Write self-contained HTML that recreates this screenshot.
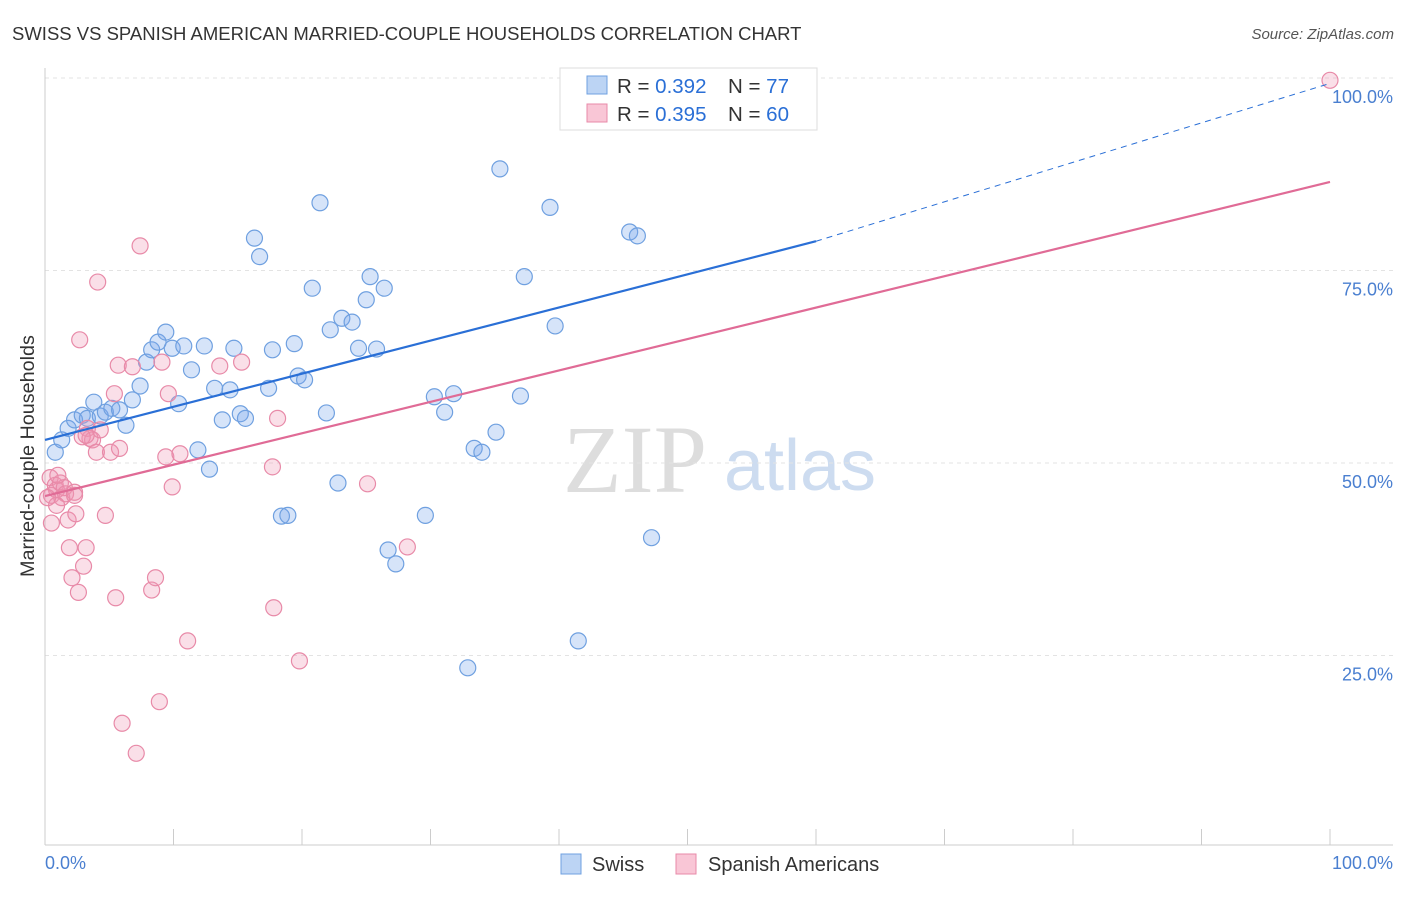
<!DOCTYPE html>
<html><head><meta charset="utf-8"><style>
body{margin:0;background:#fff;font-family:"Liberation Sans",sans-serif;}
svg text{font-family:"Liberation Sans",sans-serif;}
</style></head><body>
<svg width="1406" height="892" viewBox="0 0 1406 892">
<text x="12" y="40" font-size="18.5" fill="#333">SWISS VS SPANISH AMERICAN MARRIED-COUPLE HOUSEHOLDS CORRELATION CHART</text>
<text x="1394" y="39" font-size="15" fill="#555" font-style="italic" text-anchor="end">Source: ZipAtlas.com</text>
<g>
<text x="635" y="492" font-size="96" fill="#ddd" text-anchor="middle" style="font-family:'Liberation Serif',serif">ZIP</text>
<text x="800" y="490" font-size="72" fill="#cddcf0" text-anchor="middle">atlas</text>
</g>
<g id="grid"></g>
<g id="axes"></g>
<g id="marks"></g>
<text transform="translate(34,456) rotate(-90)" font-size="19.8" fill="#333" text-anchor="middle">Married-couple Households</text>
<text x="45" y="869" font-size="18" fill="#4a7fd0">0.0%</text>
<text x="1393" y="869" font-size="18" fill="#4a7fd0" text-anchor="end">100.0%</text>
<g>
<rect x="560" y="68" width="257" height="62" fill="#fff" stroke="#ddd"/>
<rect x="587" y="76" width="20" height="18" fill="#bcd4f4" stroke="#6fa0e0"/>
<rect x="587" y="104" width="20" height="18" fill="#f9c6d6" stroke="#e88aa8"/>
<text x="617" y="93" font-size="20.5" fill="#333">R = <tspan fill="#2a6fd6">0.392</tspan></text>
<text x="728" y="93" font-size="20.5" fill="#333">N = <tspan fill="#2a6fd6">77</tspan></text>
<text x="617" y="121" font-size="20.5" fill="#333">R = <tspan fill="#2a6fd6">0.395</tspan></text>
<text x="728" y="121" font-size="20.5" fill="#333">N = <tspan fill="#2a6fd6">60</tspan></text>
</g>
<g>
<rect x="561" y="854" width="20" height="20" fill="#bcd4f4" stroke="#6fa0e0"/>
<text x="592" y="871" font-size="20" fill="#333">Swiss</text>
<rect x="676" y="854" width="20" height="20" fill="#f9c6d6" stroke="#e88aa8"/>
<text x="708" y="871" font-size="20" fill="#333">Spanish Americans</text>
</g>
</svg>
<script>
const yTicks=[25,50,75,100];
const yTickLabels=["25.0%","50.0%","75.0%","100.0%"];
const xTicks=[0,10,20,30,40,50,60,70,80,90,100];
const swissX=[0.8,1.3,1.8,2.3,2.9,3.3,3.8,4.3,4.7,5.2,5.8,6.3,6.8,7.4,7.9,8.3,8.8,9.4,9.9,10.4,10.8,11.4,11.9,12.4,12.8,13.2,13.8,14.4,14.7,15.2,15.6,16.3,16.7,17.4,17.7,18.4,18.9,19.4,19.7,20.2,20.8,21.4,21.9,22.2,22.8,23.1,23.9,24.4,25.0,25.3,25.8,26.4,26.7,27.3,29.6,30.3,31.1,31.8,32.9,33.4,34.0,35.1,35.4,37.0,37.3,39.3,39.7,41.5,45.5,46.1,47.2,43.0,44.7,51.0,54.5];
const swissY=[51.4,53.0,54.5,55.6,56.2,55.8,57.9,56.1,56.6,57.1,56.9,54.9,58.2,60.0,63.1,64.7,65.7,67.0,64.9,57.7,65.2,62.1,51.7,65.2,49.2,59.7,55.6,59.5,64.9,56.4,55.8,79.2,76.8,59.7,64.7,43.1,43.2,65.5,61.3,60.8,72.7,83.8,56.5,67.3,47.4,68.8,68.3,64.9,71.2,74.2,64.8,72.7,38.7,36.9,43.2,58.6,56.6,59.0,23.4,51.9,51.4,54.0,88.2,58.7,74.2,83.2,67.8,26.9,80.0,79.5,40.3,99.4,99.5,99.7,99.7];
const spanX=[0.4,0.5,0.8,0.9,1.2,1.3,1.5,1.6,1.8,1.9,2.1,2.3,2.4,2.6,2.7,3.0,3.2,3.3,3.5,3.7,4.0,4.1,4.3,4.7,5.1,5.4,5.5,5.7,5.8,6.0,6.8,7.1,7.4,8.3,8.6,8.9,9.1,9.4,9.6,9.9,10.5,11.1,13.6,15.3,17.7,17.8,18.1,19.8,25.1,28.2,100,0.5,0.9,1.0,2.9,0.2,2.3,3.2];
const spanY=[48.1,45.8,47.1,46.5,47.4,45.5,46.8,46.0,42.6,39.0,35.1,46.2,43.4,33.2,66.0,36.6,39.0,54.5,53.2,53.0,51.4,73.5,54.3,43.2,51.4,59.0,32.5,62.7,51.9,16.2,62.5,12.3,78.2,33.5,35.1,19.0,63.1,50.8,59.0,46.9,51.2,26.9,62.6,63.1,49.5,31.2,55.8,24.3,47.3,39.1,99.7,42.2,44.5,48.4,53.4,45.5,45.8,53.6];
const swissTrend=[53.0,78.8,99.3];
const spanTrend=[45.7,86.5];
const NS="http://www.w3.org/2000/svg";
const X=v=>45+v*12.85, Y=v=>848-v*7.7;
function mk(t,a,p){const e=document.createElementNS(NS,t);for(const k in a)e.setAttribute(k,a[k]);p.appendChild(e);return e;}
const grid=document.getElementById('grid'),axes=document.getElementById('axes'),marks=document.getElementById('marks');
yTicks.forEach((t,i)=>{
 const l=mk('line',{x1:45,x2:1393,y1:Y(t),y2:Y(t),stroke:'#e3e3e3','stroke-dasharray':'4,4'},grid);
 
 
 const tx=mk('text',{x:1393,y:Y(t)+25,'font-size':18,fill:'#4a7fd0','text-anchor':'end'},grid);
 tx.textContent=yTickLabels[i];
 
 
});
const xa=mk('line',{x1:45,x2:1393,y1:845,y2:845,stroke:'#ccc'},axes);


const ya=mk('line',{x1:45,x2:45,y1:68,y2:845,stroke:'#ccc'},axes);


xTicks.forEach(t=>{
 const l=mk('line',{x1:X(t),x2:X(t),y1:829,y2:845,stroke:'#ccc'},axes);
 
 
});
function pts(xs,ys,fill,stroke,name){
 xs.forEach((x,i)=>{
  const c=mk('circle',{cx:X(x),cy:Y(ys[i]),r:8,fill:fill,stroke:stroke,'stroke-width':1.2},marks);
  
  
 });
}
pts(swissX,swissY,'rgba(120,165,235,0.3)','#6fa0e0','swiss-point');
pts(spanX,spanY,'rgba(240,150,180,0.3)','#e88aa8','spanish-point');
const s1=mk('line',{x1:X(0),y1:Y(swissTrend[0]),x2:X(60),y2:Y(swissTrend[1]),stroke:'#2a6fd6','stroke-width':2.2},marks);


const s2=mk('line',{x1:X(60),y1:Y(swissTrend[1]),x2:X(100),y2:Y(swissTrend[2]),stroke:'#2a6fd6','stroke-width':1,'stroke-dasharray':'6,5'},marks);


const p1=mk('line',{x1:X(0),y1:Y(spanTrend[0]),x2:X(100),y2:Y(spanTrend[1]),stroke:'#e06b96','stroke-width':2.2},marks);


</script>
</body></html>
